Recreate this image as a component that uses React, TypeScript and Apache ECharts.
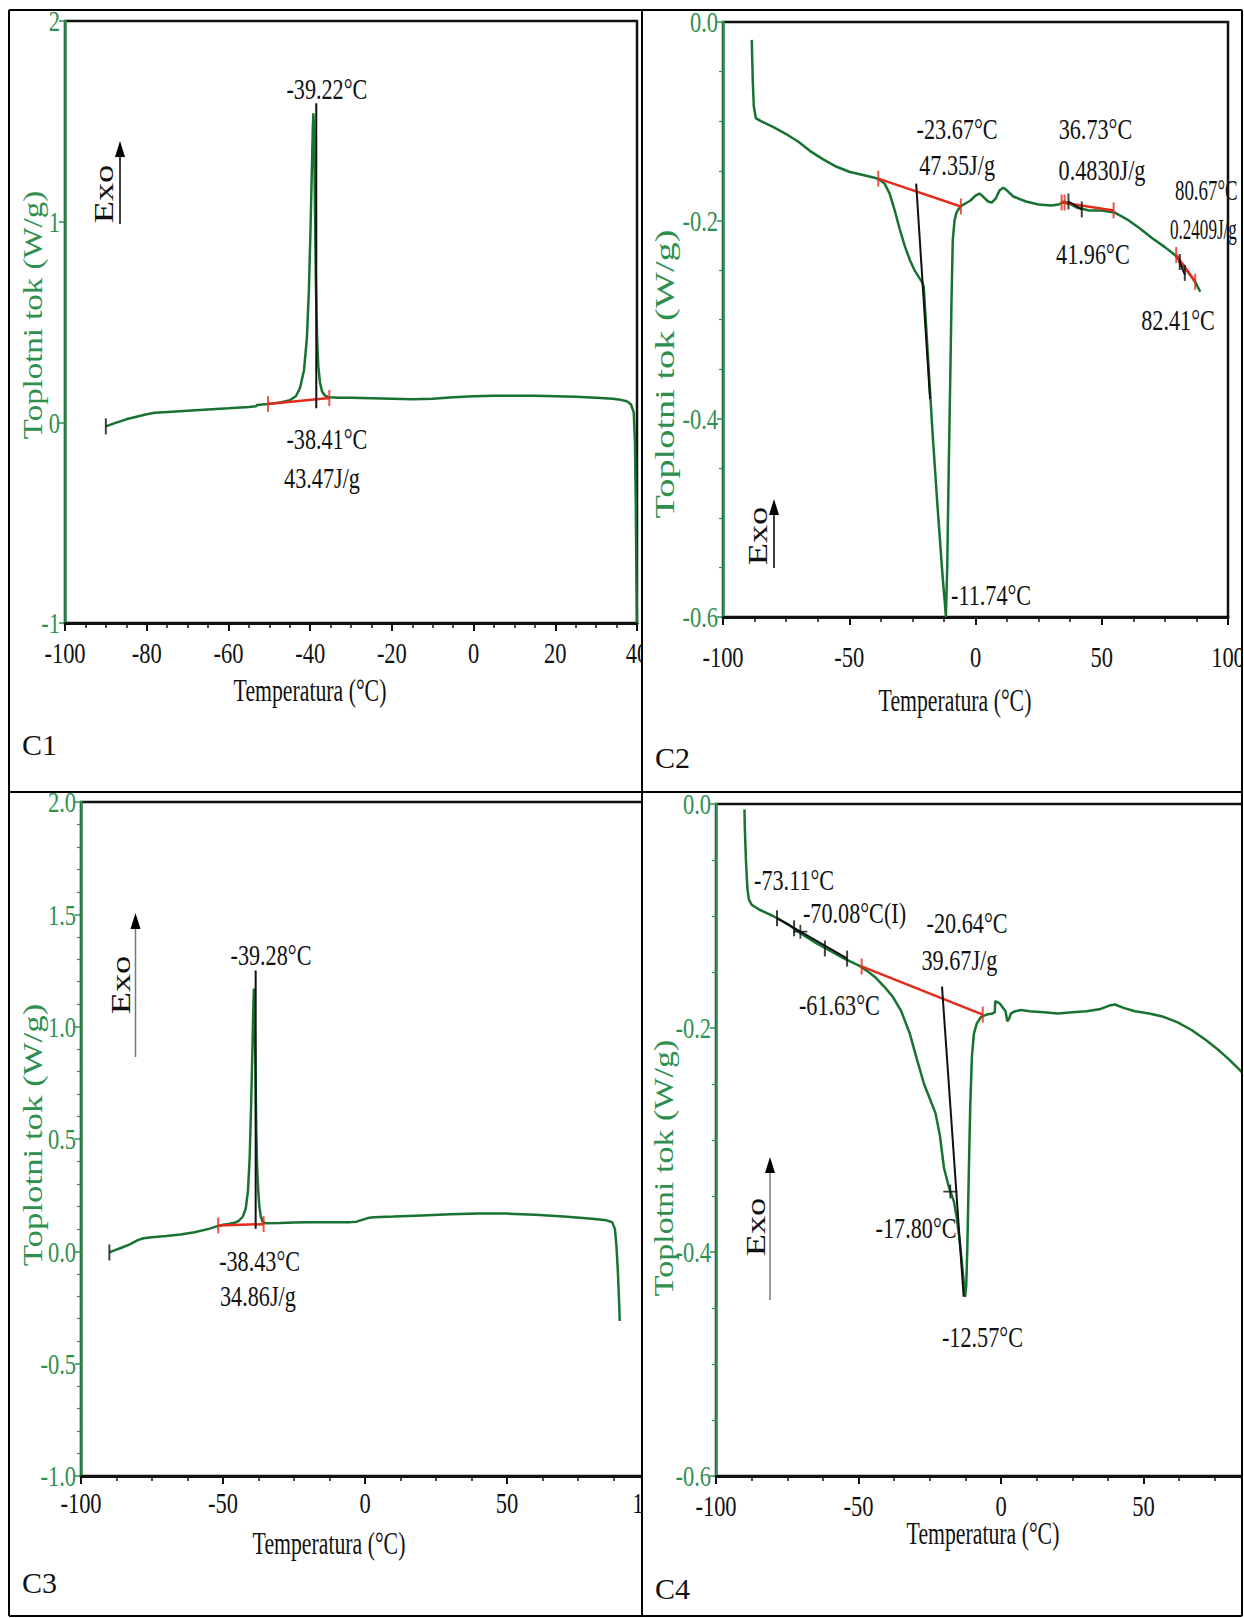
import React, { useEffect, useRef } from 'react';
import * as echarts from 'echarts';

// ---------------- DATA ----------------
// C1
const c1Temp = [-90, -88, -85, -80, -78, -75, -70, -65, -60, -55, -53.2, -53, -50, -47, -45, -43.5, -42.5, -41.5, -40.8, -40.3, -39.9, -39.6, -39.35, -39.2, -39.05, -38.85, -38.6, -38.3, -38, -37.6, -37.1, -36.5, -35.5, -33, -30, -25, -20, -15, -10, -5, 0, 5, 10, 15, 20, 25, 30, 34, 36, 37.5, 38.5, 39.2, 39.5, 39.7, 39.85, 40];
const c1Flow = [-0.02, -0.005, 0.015, 0.04, 0.048, 0.052, 0.058, 0.064, 0.07, 0.077, 0.08, 0.086, 0.092, 0.1, 0.11, 0.13, 0.17, 0.26, 0.42, 0.66, 0.97, 1.24, 1.46, 1.54, 1.45, 1.12, 0.7, 0.42, 0.28, 0.2, 0.155, 0.135, 0.125, 0.122, 0.122, 0.12, 0.118, 0.115, 0.118, 0.125, 0.13, 0.132, 0.133, 0.132, 0.13, 0.128, 0.123, 0.118, 0.112, 0.105, 0.09, 0.05, -0.1, -0.4, -0.75, -1.0];
const c1XTicks = [-100, -80, -60, -40, -20, 0, 20, 40];
const c1YTicks = [-1, 0, 1, 2];
const c1RedLine = [[-50.3, 0.091], [-35.3, 0.121]];
const c1BlackLines = [[[-38.5, 0.07], [-38.5, 1.59]]];
const c1RedTicks = [[-50.3, 0.091], [-35.3, 0.121]];
const c1BlackTicks: number[][] = [[-90, -0.02]];
const c1Crosses: number[][] = [];
const c1Labels = [
  { text: '-39.22°C', at: [-35.9, 1.661] },
  { text: '-38.41°C', at: [-35.9, -0.083] },
  { text: '43.47J/g', at: [-37.1, -0.277] },
];

// C2
const c2Temp = [-88.6, -88.5, -88.2, -87.8, -87, -85, -80, -75, -70, -65, -60, -55, -50, -45, -40, -38, -36, -34, -32, -30, -28, -26, -24, -22, -21, -20.5, -19, -17, -15, -13, -12, -11.74, -11.2, -10.6, -10, -9.5, -9, -8.3, -7.5, -6, -4, -2, 0, 1.5, 3, 5, 6.5, 8, 9.5, 11, 12.5, 15, 20, 25, 30, 33, 35, 37, 40, 45, 50, 55, 60, 65, 70, 75, 79, 83, 87, 89];
const c2Flow = [-0.018, -0.03, -0.06, -0.085, -0.097, -0.1, -0.106, -0.113, -0.121, -0.131, -0.139, -0.146, -0.151, -0.154, -0.157, -0.159, -0.163, -0.173, -0.19, -0.209, -0.226, -0.24, -0.251, -0.259, -0.263, -0.267, -0.33, -0.415, -0.49, -0.56, -0.59, -0.6, -0.55, -0.45, -0.36, -0.28, -0.22, -0.2, -0.192, -0.186, -0.183, -0.18, -0.175, -0.173, -0.176, -0.181, -0.182, -0.178, -0.17, -0.167, -0.17, -0.176, -0.181, -0.184, -0.185, -0.184, -0.181, -0.183, -0.187, -0.19, -0.19, -0.192, -0.199, -0.208, -0.218, -0.227, -0.235, -0.248, -0.262, -0.272];
const c2XTicks = [-100, -50, 0, 50, 100];
const c2YTicks = [-0.6, -0.4, -0.2, 0];
const c2RedLine = [[-38.5, -0.158], [-5.8, -0.186]];
const c2RedLine2 = [[34.3, -0.182], [54.7, -0.19]];
const c2RedLine3 = [[79.5, -0.235], [87, -0.262]];
const c2BlackLines = [
  [[-23.5, -0.163], [-18.0, -0.38]],
  [[36.8, -0.181], [42.1, -0.189]],
  [[80.6, -0.241], [83, -0.255]],
];
const c2RedTicks = [[-38.5, -0.158], [-5.8, -0.186], [34.1, -0.182], [35.3, -0.182], [54.7, -0.19], [79.5, -0.235], [87, -0.262]];
const c2BlackTicks = [[36.8, -0.181], [42.1, -0.189], [80.9, -0.242], [82.9, -0.253]];
const c2Crosses: number[][] = [];
const c2Labels = [
  { text: '-23.67°C', at: [-7.3, -0.108] },
  { text: '47.35J/g', at: [-7.3, -0.144] },
  { text: '36.73°C', at: [47.5, -0.108] },
  { text: '0.4830J/g', at: [50.1, -0.149] },
  { text: '41.96°C', at: [46.5, -0.234] },
  { text: '80.67°C', at: [79, -0.169], align: 'left', sx: 0.63 },
  { text: '0.2409J/g', at: [77, -0.208], align: 'left', sx: 0.57 },
  { text: '82.41°C', at: [80.2, -0.3] },
  { text: '-11.74°C', at: [-9.7, -0.578], align: 'left' },
];

// C3
const c3Temp = [-90, -88, -86, -83, -80, -78, -75, -70, -65, -60, -55, -52, -50, -48, -46, -44.5, -43, -42, -41.2, -40.6, -40.1, -39.6, -39.3, -39.1, -38.9, -38.6, -38.3, -38, -37.6, -37.2, -36.7, -36, -35, -30, -25, -20, -15, -10, -5, -3, -1, 1, 3, 10, 20, 30, 40, 50, 60, 70, 80, 85, 87, 88, 88.5, 89, 89.4, 89.7];
const c3Flow = [-0.005, 0.005, 0.015, 0.03, 0.05, 0.058, 0.063, 0.068, 0.075, 0.085, 0.1, 0.112, 0.118, 0.122, 0.127, 0.135, 0.155, 0.19, 0.27, 0.42, 0.65, 0.92, 1.1, 1.17, 1.1, 0.85, 0.55, 0.38, 0.27, 0.2, 0.155, 0.13, 0.125, 0.126, 0.128, 0.13, 0.13, 0.13, 0.13, 0.132, 0.14, 0.148, 0.152, 0.155, 0.16, 0.165, 0.168, 0.168, 0.163, 0.155, 0.145, 0.138, 0.13, 0.1, 0.03, -0.08, -0.2, -0.31];
const c3XTicks = [-100, -50, 0, 50, 100];
const c3YTicks = [-1, -0.5, 0, 0.5, 1, 1.5, 2];
const c3RedLine = [[-51.7, 0.115], [-35.7, 0.121]];
const c3BlackLines = [[[-38.5, 0.1], [-38.5, 1.25]]];
const c3RedTicks = [[-51.7, 0.115], [-35.7, 0.121]];
const c3BlackTicks: number[][] = [[-90, -0.005]];
const c3Crosses: number[][] = [];
const c3Labels = [
  { text: '-39.28°C', at: [-33.1, 1.321] },
  { text: '-38.43°C', at: [-37.1, -0.043] },
  { text: '34.86J/g', at: [-37.7, -0.199] },
];

// C4
const c4Temp = [-90, -89.9, -89.5, -89, -88.5, -87.5, -85, -80, -75, -70, -65, -60, -55, -50, -47, -44, -41, -38, -35, -32, -29.5, -27, -25, -23, -21.5, -20, -18.5, -17.5, -16.5, -15.5, -14.5, -13.5, -12.8, -12.57, -12.2, -11.8, -11.3, -10.8, -10.2, -9.5, -8.5, -7, -5, -3, -2.2, -2, -0.5, 1.6, 2.2, 2.8, 3.5, 5, 7, 10, 15, 20, 25, 30, 35, 38, 40, 43, 47, 52, 57, 62, 67, 72, 76, 80, 84, 86];
const c4Flow = [-0.005, -0.02, -0.05, -0.075, -0.085, -0.09, -0.094, -0.1, -0.107, -0.116, -0.124, -0.131, -0.138, -0.144, -0.149, -0.155, -0.163, -0.172, -0.185, -0.205, -0.228, -0.25, -0.263, -0.276, -0.295, -0.325, -0.34, -0.348, -0.355, -0.37, -0.39, -0.415, -0.435, -0.44, -0.43, -0.395, -0.33, -0.27, -0.225, -0.205, -0.196, -0.19, -0.188, -0.187, -0.186, -0.176, -0.178, -0.185, -0.194, -0.192, -0.187, -0.185, -0.184, -0.185, -0.186, -0.187, -0.186, -0.185, -0.183, -0.18, -0.179, -0.182, -0.185, -0.187, -0.19, -0.195, -0.202, -0.211, -0.219, -0.228, -0.238, -0.245];
const c4XTicks = [-100, -50, 0, 50, 100];
const c4YTicks = [-0.6, -0.4, -0.2, 0];
const c4RedLine = [[-48.9, -0.145], [-6.4, -0.188]];
const c4BlackLines = [
  [[-78.6, -0.102], [-53.9, -0.138]],
  [[-20.7, -0.163], [-13.1, -0.44]],
];
const c4RedTicks = [[-48.9, -0.145], [-6.4, -0.188]];
const c4BlackTicks = [[-78.6, -0.102], [-72.6, -0.111], [-61.8, -0.129], [-54, -0.138]];
const c4Crosses = [[-70.4, -0.114], [-17.8, -0.346]];
const c4Labels = [
  { text: '-73.11°C', at: [-72.6, -0.068] },
  { text: '-70.08°C(I)', at: [-51.4, -0.097] },
  { text: '-20.64°C', at: [-11.9, -0.106] },
  { text: '39.67J/g', at: [-14.6, -0.139] },
  { text: '-61.63°C', at: [-56.7, -0.179] },
  { text: '-17.80°C', at: [-29.8, -0.378] },
  { text: '-12.57°C', at: [-6.5, -0.476] },
];

// ---------------- STYLE / LAYOUT ----------------
const FONT = '"Liberation Serif", "Times New Roman", serif';
const GREEN = '#17732f';
const AXIS_GREEN = '#2f8f4f';
const RED = '#e62a1c';
const BLACK = '#111111';
const PAGE_W = 1244;

const zip = (a: number[], b: number[]) => a.map((v, i) => [v, b[i]]);

const panels = [
  {
    name: 'C1', grid: { left: 65, top: 21, width: 572, height: 602 },
    x: { min: -100, max: 40, interval: 20, minor: 4 }, y: { min: -1, max: 2, interval: 1, minor: 0 },
    temp: c1Temp, flow: c1Flow, xTicks: c1XTicks, yTicks: c1YTicks, yDigits: 0,
    red: [c1RedLine], black: c1BlackLines, redTicks: c1RedTicks, blackTicks: c1BlackTicks, crosses: c1Crosses, labels: c1Labels,
    xLabelDy: 30, tickZ: 100, yTickZ: 100,
    xName: [310, 690], yName: [33, 315], yNameSx: 1.22, tag: [22, 744],
    exo: { x: 120, y1: 224, y2: 141, tx: 104, ty: 194, color: '#000' },
  },
  {
    name: 'C2', grid: { left: 723, top: 22, width: 505, height: 595 },
    x: { min: -100, max: 100, interval: 50, minor: 4 }, y: { min: -0.6, max: 0, interval: 0.2, minor: 4 },
    temp: c2Temp, flow: c2Flow, xTicks: c2XTicks, yTicks: c2YTicks, yDigits: 1,
    red: [c2RedLine, c2RedLine2, c2RedLine3], black: c2BlackLines, redTicks: c2RedTicks, blackTicks: c2BlackTicks, crosses: c2Crosses, labels: c2Labels,
    xLabelDy: 40, tickZ: 100, yTickZ: 200,
    xName: [955, 700], yName: [665, 374], yNameSx: 1.42, tag: [655, 757],
    exo: { x: 774, y1: 568, y2: 499, tx: 758, ty: 536, color: '#000' },
  },
  {
    name: 'C3', grid: { left: 81, top: 802, width: 568, height: 674 },
    x: { min: -100, max: 100, interval: 50, minor: 4 }, y: { min: -1, max: 2, interval: 0.5, minor: 5 },
    temp: c3Temp, flow: c3Flow, xTicks: c3XTicks, yTicks: c3YTicks, yDigits: 1,
    red: [c3RedLine], black: c3BlackLines, redTicks: c3RedTicks, blackTicks: c3BlackTicks, crosses: c3Crosses, labels: c3Labels,
    xLabelDy: 27, tickZ: 100, yTickZ: 100,
    xName: [329, 1543], yName: [33, 1135], yNameSx: 1.29, tag: [22, 1582],
    exo: { x: 135.5, y1: 1057, y2: 913, tx: 120.5, ty: 985, color: '#777' },
  },
  {
    name: 'C4', grid: { left: 716, top: 804, width: 570, height: 672 },
    x: { min: -100, max: 100, interval: 50, minor: 4 }, y: { min: -0.6, max: 0, interval: 0.2, minor: 4 },
    temp: c4Temp, flow: c4Flow, xTicks: c4XTicks, yTicks: c4YTicks, yDigits: 1,
    red: [c4RedLine], black: c4BlackLines, redTicks: c4RedTicks, blackTicks: c4BlackTicks, crosses: c4Crosses, labels: c4Labels,
    xLabelDy: 30, tickZ: 100, yTickZ: 200,
    xName: [983, 1533], yName: [664, 1168], yNameSx: 1.26, tag: [655, 1588],
    exo: { x: 770, y1: 1300, y2: 1157, tx: 756, ty: 1227, color: '#777' },
  },
];

const TICK_FONT = 30, TICK_SX = 0.75;
const ANN_FONT = 30, ANN_SX = 0.74;
const NAME_FONT = 32, NAME_SX = 0.68;

function txt(text: string, x: number, y: number, o: any = {}) {
  const align = o.align || 'center';
  const size = o.size || 30;
  return {
    type: 'text', x, y, z: o.z ?? 100, zlevel: 0, silent: true,
    scaleX: o.sx ?? 1, scaleY: 1, rotation: o.rot || 0,
    style: {
      text, fill: o.color || BLACK,
      font: `${size}px ${FONT}`, fontSize: size, fontFamily: FONT,
      textAlign: align, align, textVerticalAlign: 'middle', verticalAlign: 'middle',
    },
  };
}

function buildOption() {
  const grid: any[] = [], xAxis: any[] = [], yAxis: any[] = [], series: any[] = [];
  panels.forEach((p, i) => {
    grid.push({ ...p.grid, show: true, borderColor: BLACK, borderWidth: 2.5, backgroundColor: 'transparent', containLabel: false, outerBoundsMode: 'none' });
    xAxis.push({
      gridIndex: i, type: 'value', min: p.x.min, max: p.x.max, interval: p.x.interval,
      axisLine: { show: true, onZero: false, lineStyle: { color: BLACK, width: 3 } },
      axisTick: { show: true, length: 8, lineStyle: { color: BLACK, width: 2 } },
      minorTick: { show: true, splitNumber: p.x.minor, length: 5, lineStyle: { color: BLACK, width: 1.5 } },
      axisLabel: { show: false }, splitLine: { show: false }, minorSplitLine: { show: false },
    });
    yAxis.push({
      gridIndex: i, type: 'value', min: p.y.min, max: p.y.max, interval: p.y.interval,
      axisLine: { show: true, onZero: false, lineStyle: { color: AXIS_GREEN, width: 2.5 } },
      axisTick: { show: true, length: 6, lineStyle: { color: AXIS_GREEN, width: 1.5 } },
      minorTick: { show: p.y.minor > 0, splitNumber: p.y.minor || 5, length: 4, lineStyle: { color: AXIS_GREEN, width: 1.2 } },
      axisLabel: { show: false }, splitLine: { show: false }, minorSplitLine: { show: false },
    });
    series.push({
      type: 'line', xAxisIndex: i, yAxisIndex: i, data: zip(p.temp, p.flow),
      showSymbol: false, symbol: 'none', smooth: false, clip: true, z: 3, silent: true,
      lineStyle: { color: GREEN, width: 2.5 },
    });
    p.red.forEach((seg: number[][]) => series.push({
      type: 'line', xAxisIndex: i, yAxisIndex: i, data: seg, symbol: 'none', z: 4, silent: true,
      lineStyle: { color: RED, width: 2.5 },
    }));
    p.black.forEach((seg: number[][]) => series.push({
      type: 'line', xAxisIndex: i, yAxisIndex: i, data: seg, symbol: 'none', z: 5, silent: true,
      lineStyle: { color: BLACK, width: 2 },
    }));
    series.push({
      type: 'scatter', xAxisIndex: i, yAxisIndex: i, data: p.redTicks, symbol: 'rect', symbolSize: [2, 16], z: 6, silent: true,
      itemStyle: { color: RED },
    });
    series.push({
      type: 'scatter', xAxisIndex: i, yAxisIndex: i, data: p.blackTicks, symbol: 'rect', symbolSize: [2, 16], z: 6, silent: true,
      itemStyle: { color: BLACK },
    });
    series.push({
      type: 'scatter', xAxisIndex: i, yAxisIndex: i, data: p.crosses, symbol: 'path://M7,0h2v16h-2zM0,7h16v2h-16z', symbolSize: [14, 14], z: 6, silent: true,
      itemStyle: { color: BLACK },
    });
  });
  return { animation: false, backgroundColor: '#ffffff', grid, xAxis, yAxis, series };
}

function buildGraphics(chart: any) {
  const els: any[] = [];
  panels.forEach((p, i) => {
    const px = (v: number[]) => chart.convertToPixel({ gridIndex: i }, v) as number[];
    p.xTicks.forEach((v) => {
      const [x, y] = px([v, p.y.min]);
      if (x > PAGE_W + 5) return; // tick lies outside the page (cropped in the figure)
      els.push(txt(String(v), x, y + p.xLabelDy, { size: TICK_FONT, sx: TICK_SX, z: p.tickZ }));
    });
    p.yTicks.forEach((v) => {
      const [x, y] = px([p.x.min, v]);
      els.push(txt(v.toFixed(p.yDigits), x - 5, y, { size: TICK_FONT, sx: TICK_SX, align: 'right', color: AXIS_GREEN, z: p.yTickZ }));
    });
    p.labels.forEach((l: any) => {
      const [x, y] = px(l.at);
      els.push(txt(l.text, x, y, { size: ANN_FONT, sx: l.sx ?? ANN_SX, align: l.align || 'center', z: 100 }));
    });
    els.push(txt('Temperatura (°C)', p.xName[0], p.xName[1], { size: NAME_FONT, sx: NAME_SX, z: p.yTickZ }));
    els.push(txt('Toplotni tok (W/g)', p.yName[0], p.yName[1], { size: 27, sx: p.yNameSx, rot: Math.PI / 2, color: AXIS_GREEN, z: p.yTickZ }));
    els.push(txt(p.name, p.tag[0], p.tag[1], { size: 30, align: 'left', z: 300 }));
    const e = p.exo;
    els.push({ type: 'line', z: 120, silent: true, shape: { x1: e.x, y1: e.y1, x2: e.x, y2: e.y2 + 10 }, style: { stroke: e.color, lineWidth: 1.5 } });
    els.push({ type: 'polygon', z: 120, silent: true, shape: { points: [[e.x - 5, e.y2 + 16], [e.x, e.y2], [e.x + 5, e.y2 + 16]] }, style: { fill: '#000' } });
    els.push(txt('Exo', e.tx, e.ty, { size: 27, sx: 1.35, rot: Math.PI / 2, z: 120 }));
  });
  // masks for the parts of the plots that run past the table cells
  const mask = (x: number, y: number, w: number, h: number) => ({ type: 'rect', z: 150, silent: true, shape: { x, y, width: w, height: h }, style: { fill: '#ffffff' } });
  els.push(mask(643, 11, 52, 780));
  els.push(mask(643, 793, 52, 822));
  els.push(mask(1243, 0, 40, 1618));
  // table borders
  const ln = (x1: number, y1: number, x2: number, y2: number) => ({ type: 'line', z: 300, silent: true, shape: { x1, y1, x2, y2 }, style: { stroke: '#000', lineWidth: 2 } });
  els.push(ln(9, 10, 1242, 10));
  els.push(ln(9, 792, 1242, 792));
  els.push(ln(9, 1616, 1242, 1616));
  els.push(ln(9, 10, 9, 1616));
  els.push(ln(642, 10, 642, 1616));
  els.push(ln(1242, 10, 1242, 1616));
  return els;
}

export default function App() {
  const ref = useRef<HTMLDivElement>(null);
  useEffect(() => {
    document.body.style.margin = '0';
    const chart = echarts.init(ref.current as HTMLDivElement, null, { renderer: 'svg' });
    chart.setOption(buildOption() as any);
    chart.setOption({ graphic: { elements: buildGraphics(chart) } } as any);
    return () => chart.dispose();
  }, []);
  return (
    <div
      ref={ref}
      style={{ position: 'absolute', left: 0, top: 0, width: 1244, height: 1618, background: '#fff', overflow: 'hidden' }}
    />
  );
}
